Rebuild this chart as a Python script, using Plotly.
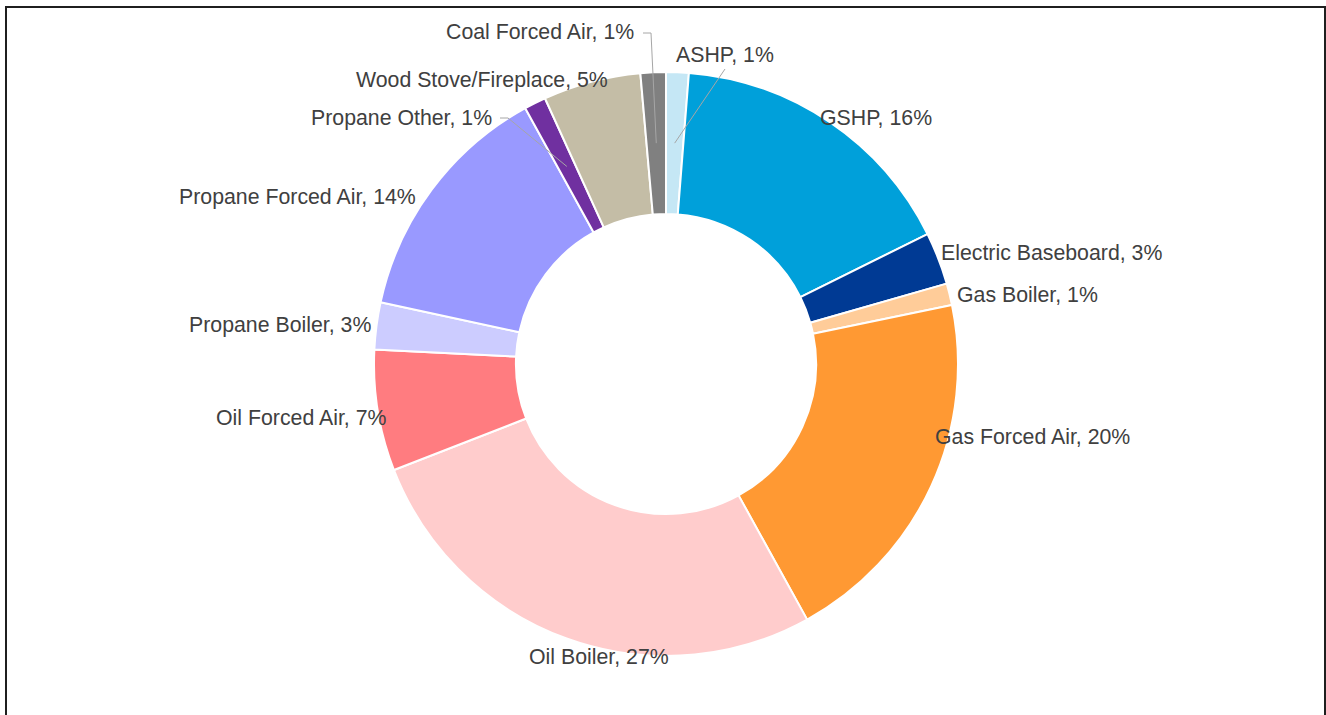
import math
import plotly.graph_objects as go

# ---- data ----
categories = ["ASHP", "GSHP", "Electric Baseboard", "Gas Boiler", "Gas Forced Air",
              "Oil Boiler", "Oil Forced Air", "Propane Boiler", "Propane Forced Air",
              "Propane Other", "Wood Stove/Fireplace", "Coal Forced Air"]
shares = [1.25, 16.4, 2.9, 1.2, 20.2, 27.1, 6.7, 2.6, 13.6, 1.2, 5.4, 1.4]
pct_labels = ["1%", "16%", "3%", "1%", "20%", "27%", "7%", "3%", "14%", "1%", "5%", "1%"]

# ---- styles ----
colors = ["#C5E7F5", "#00A0DA", "#003A94", "#FFCC99", "#FF9933", "#FFCCCC",
          "#FF7C80", "#CCCCFF", "#9999FF", "#7030A0", "#C4BDA6", "#808080"]

W, H = 1326, 715
CX, CY, R = 666, 364, 292
HOLE = 0.514

# label centers (pixels) for each category, in the same order
label_pos = [(725, 55), (876, 118), (1051, 253), (1027, 295), (1032, 437), (599, 657),
             (301, 418), (280, 325), (297, 197), (402, 118), (482, 80), (540, 32)]
# leader line starting points (pixels) for the small labelled slices
leader_start = {"ASHP": [(725, 69)],
                "Propane Other": [(500, 118), (508, 118)],
                "Coal Forced Air": [(643, 33), (651, 33)]}

fig = go.Figure()
fig.add_trace(go.Pie(
    labels=categories, values=shares, sort=False, direction="clockwise", rotation=0,
    hole=HOLE, textinfo="none", hoverinfo="label+percent",
    marker=dict(colors=colors, line=dict(color="white", width=2)),
    domain=dict(x=[(CX - R) / W, (CX + R) / W], y=[1 - (CY + R) / H, 1 - (CY - R) / H]),
    showlegend=False,
))

def px(x, y):
    return x / W, 1 - y / H

annotations = []
for cat, pct, (lx, ly) in zip(categories, pct_labels, label_pos):
    ax, ay = px(lx, ly)
    annotations.append(dict(x=ax, y=ay, xref="paper", yref="paper", text=f"{cat}, {pct}",
                            showarrow=False, xanchor="center", yanchor="middle",
                            font=dict(family="Liberation Sans, Arial", size=21.3, color="#404040")))

# leader lines ending at the slice mid-angle at mid-ring radius
total = sum(shares)
cum = 0.0
mid_angle = {}
for cat, v in zip(categories, shares):
    mid_angle[cat] = (cum + v / 2) / total * 2 * math.pi
    cum += v

shapes = []
rmid = R * (1 + HOLE) / 2
for cat, pts in leader_start.items():
    a = mid_angle[cat]
    ex, ey = CX + rmid * math.sin(a), CY - rmid * math.cos(a)
    path_pts = pts + [(ex, ey)]
    path = "M " + " L ".join(f"{px(x, y)[0]},{px(x, y)[1]}" for x, y in path_pts)
    shapes.append(dict(type="path", path=path, xref="paper", yref="paper",
                       line=dict(color="#A6A6A6", width=1)))

# outer frame
shapes.append(dict(type="rect", xref="paper", yref="paper",
                   x0=6 / W, x1=1325 / W, y0=-0.05, y1=1 - 7 / H,
                   line=dict(color="#1F1F1F", width=2)))

fig.update_layout(width=W, height=H, margin=dict(l=0, r=0, t=0, b=0),
                  paper_bgcolor="white", plot_bgcolor="white",
                  annotations=annotations, shapes=shapes)
fig.write_html("out.html", config={"displayModeBar": False},
               post_script="document.body.style.margin='0';document.body.style.overflow='hidden';")
